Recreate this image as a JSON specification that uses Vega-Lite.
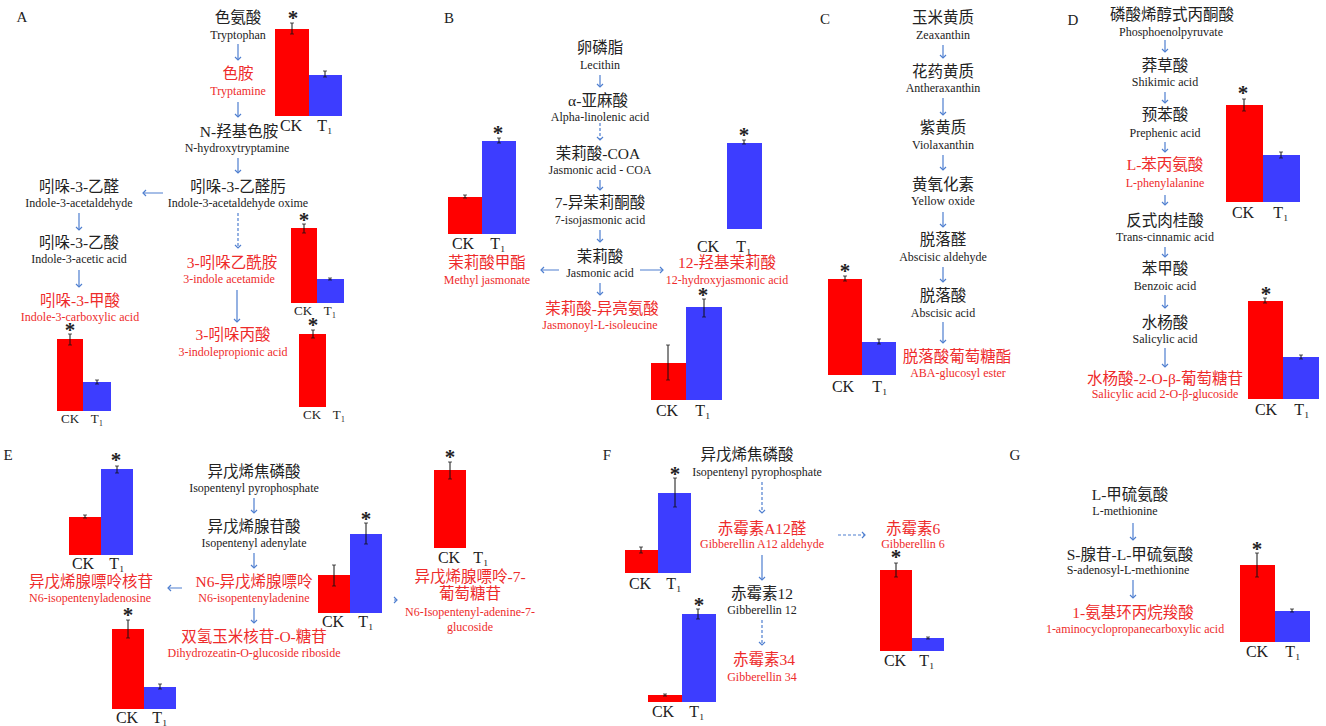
{
"$schema": "https://vega.github.io/schema/vega-lite/v6.json",
"width": 1326, "height": 726,
"autosize": {"type": "fit", "contains": "padding"},
"padding": 0,
"background": "white",
"config": {"view": {"stroke": null}},
"datasets": {
"arrows": [
{"x1":238,"y1":44,"x2":238,"y2":60,"d":0,"dir":"down"},
{"x1":238,"y1":102,"x2":238,"y2":117,"d":0,"dir":"down"},
{"x1":238,"y1":158,"x2":238,"y2":173,"d":0,"dir":"down"},
{"x1":163,"y1":193,"x2":143,"y2":193,"d":0,"dir":"left"},
{"x1":79,"y1":213,"x2":79,"y2":230,"d":0,"dir":"down"},
{"x1":79,"y1":270,"x2":79,"y2":287,"d":0,"dir":"down"},
{"x1":238,"y1":213,"x2":238,"y2":248,"d":1,"dir":"down"},
{"x1":237,"y1":290,"x2":237,"y2":322,"d":0,"dir":"down"},
{"x1":600,"y1":75,"x2":600,"y2":87,"d":0,"dir":"down"},
{"x1":600,"y1":123,"x2":600,"y2":140,"d":1,"dir":"down"},
{"x1":600,"y1":180,"x2":600,"y2":190,"d":0,"dir":"down"},
{"x1":600,"y1":230,"x2":600,"y2":242,"d":0,"dir":"down"},
{"x1":559,"y1":270,"x2":541,"y2":270,"d":0,"dir":"left"},
{"x1":640,"y1":270,"x2":663,"y2":270,"d":0,"dir":"right"},
{"x1":600,"y1":283,"x2":600,"y2":295,"d":0,"dir":"down"},
{"x1":943,"y1":45,"x2":943,"y2":58,"d":0,"dir":"down"},
{"x1":943,"y1":98,"x2":943,"y2":115,"d":0,"dir":"down"},
{"x1":943,"y1":155,"x2":943,"y2":170,"d":0,"dir":"down"},
{"x1":943,"y1":212,"x2":943,"y2":227,"d":0,"dir":"down"},
{"x1":943,"y1":267,"x2":943,"y2":282,"d":0,"dir":"down"},
{"x1":943,"y1":322,"x2":943,"y2":343,"d":0,"dir":"down"},
{"x1":1165,"y1":40,"x2":1165,"y2":52,"d":0,"dir":"down"},
{"x1":1165,"y1":92,"x2":1165,"y2":103,"d":0,"dir":"down"},
{"x1":1165,"y1":142,"x2":1165,"y2":152,"d":0,"dir":"down"},
{"x1":1165,"y1":195,"x2":1165,"y2":205,"d":0,"dir":"down"},
{"x1":1165,"y1":247,"x2":1165,"y2":257,"d":0,"dir":"down"},
{"x1":1165,"y1":295,"x2":1165,"y2":308,"d":0,"dir":"down"},
{"x1":1165,"y1":348,"x2":1165,"y2":367,"d":0,"dir":"down"},
{"x1":254,"y1":498,"x2":254,"y2":513,"d":0,"dir":"down"},
{"x1":254,"y1":553,"x2":254,"y2":568,"d":0,"dir":"down"},
{"x1":254,"y1":608,"x2":254,"y2":623,"d":0,"dir":"down"},
{"x1":182,"y1":588,"x2":168,"y2":588,"d":0,"dir":"left"},
{"x1":394,"y1":600,"x2":397,"y2":600,"d":0,"dir":"right"},
{"x1":762,"y1":482,"x2":762,"y2":513,"d":1,"dir":"down"},
{"x1":838,"y1":535,"x2":865,"y2":535,"d":1,"dir":"right"},
{"x1":762,"y1":555,"x2":762,"y2":580,"d":0,"dir":"down"},
{"x1":762,"y1":620,"x2":762,"y2":645,"d":1,"dir":"down"},
{"x1":1133,"y1":523,"x2":1133,"y2":540,"d":0,"dir":"down"},
{"x1":1133,"y1":580,"x2":1133,"y2":598,"d":0,"dir":"down"}
],
"bars": [
{"c":"A1","g":"CK","x0":275,"x1":309,"top":29,"base":116,"ex":292,"elo":23,"ehi":34},
{"c":"A1","g":"T1","x0":309,"x1":342,"top":75,"base":116,"ex":325,"elo":71,"ehi":77},
{"c":"A2","g":"CK","x0":291,"x1":317,"top":228,"base":303,"ex":304,"elo":224,"ehi":233},
{"c":"A2","g":"T1","x0":317,"x1":344,"top":279,"base":303,"ex":330,"elo":278,"ehi":280},
{"c":"A3","g":"CK","x0":299,"x1":326,"top":334,"base":407,"ex":313,"elo":330,"ehi":338},
{"c":"A4","g":"CK","x0":57,"x1":83,"top":339,"base":411,"ex":70,"elo":334,"ehi":345},
{"c":"A4","g":"T1","x0":83,"x1":111,"top":382,"base":411,"ex":97,"elo":380,"ehi":384},
{"c":"B1","g":"CK","x0":448,"x1":482,"top":197,"base":234,"ex":465,"elo":195,"ehi":198},
{"c":"B1","g":"T1","x0":482,"x1":516,"top":141,"base":234,"ex":499,"elo":138,"ehi":143},
{"c":"B2","g":"T1","x0":727,"x1":762,"top":143,"base":229,"ex":744,"elo":140,"ehi":144},
{"c":"B3","g":"CK","x0":651,"x1":686,"top":363,"base":400,"ex":668,"elo":345,"ehi":380},
{"c":"B3","g":"T1","x0":686,"x1":722,"top":307,"base":400,"ex":704,"elo":299,"ehi":317},
{"c":"C","g":"CK","x0":828,"x1":862,"top":279,"base":375,"ex":845,"elo":276,"ehi":281},
{"c":"C","g":"T1","x0":862,"x1":896,"top":342,"base":375,"ex":879,"elo":339,"ehi":344},
{"c":"D1","g":"CK","x0":1226,"x1":1263,"top":105,"base":202,"ex":1244,"elo":99,"ehi":111},
{"c":"D1","g":"T1","x0":1263,"x1":1300,"top":155,"base":202,"ex":1281,"elo":152,"ehi":158},
{"c":"D2","g":"CK","x0":1248,"x1":1283,"top":301,"base":399,"ex":1265,"elo":298,"ehi":303},
{"c":"D2","g":"T1","x0":1283,"x1":1319,"top":357,"base":399,"ex":1301,"elo":355,"ehi":359},
{"c":"E1","g":"CK","x0":69,"x1":101,"top":517,"base":555,"ex":85,"elo":515,"ehi":518},
{"c":"E1","g":"T1","x0":101,"x1":133,"top":469,"base":555,"ex":117,"elo":466,"ehi":473},
{"c":"E2","g":"CK","x0":112,"x1":144,"top":629,"base":709,"ex":128,"elo":620,"ehi":638},
{"c":"E2","g":"T1","x0":144,"x1":176,"top":687,"base":709,"ex":160,"elo":684,"ehi":689},
{"c":"E3","g":"CK","x0":318,"x1":350,"top":575,"base":613,"ex":334,"elo":565,"ehi":586},
{"c":"E3","g":"T1","x0":350,"x1":382,"top":534,"base":613,"ex":366,"elo":523,"ehi":544},
{"c":"E4","g":"CK","x0":434,"x1":466,"top":470,"base":548,"ex":450,"elo":462,"ehi":479},
{"c":"F1","g":"CK","x0":625,"x1":658,"top":550,"base":573,"ex":641,"elo":547,"ehi":553},
{"c":"F1","g":"T1","x0":658,"x1":691,"top":493,"base":573,"ex":675,"elo":478,"ehi":507},
{"c":"F2","g":"CK","x0":648,"x1":682,"top":695,"base":702,"ex":665,"elo":694,"ehi":696},
{"c":"F2","g":"T1","x0":682,"x1":716,"top":614,"base":702,"ex":698,"elo":609,"ehi":619},
{"c":"F3","g":"CK","x0":880,"x1":912,"top":570,"base":651,"ex":896,"elo":563,"ehi":577},
{"c":"F3","g":"T1","x0":912,"x1":944,"top":638,"base":651,"ex":928,"elo":637,"ehi":639},
{"c":"G","g":"CK","x0":1240,"x1":1275,"top":565,"base":642,"ex":1257,"elo":553,"ehi":577},
{"c":"G","g":"T1","x0":1275,"x1":1310,"top":611,"base":642,"ex":1292,"elo":609,"ehi":612}
],
"labels": [
{"t":"A","x":22,"y":17,"r":"panel","h":0},
{"t":"色氨酸","x":238,"y":18,"r":"cn","h":0},
{"t":"Tryptophan","x":238,"y":35,"r":"en","h":0},
{"t":"色胺","x":238,"y":74,"r":"cn","h":1},
{"t":"Tryptamine","x":238,"y":91,"r":"en","h":1},
{"t":"N-羟基色胺","x":239,"y":132,"r":"cn","h":0},
{"t":"N-hydroxytryptamine","x":237,"y":148,"r":"en","h":0},
{"t":"吲哚-3-乙醛肟","x":238,"y":187,"r":"cn","h":0},
{"t":"Indole-3-acetaldehyde oxime","x":238,"y":203,"r":"en","h":0},
{"t":"吲哚-3-乙醛","x":79,"y":187,"r":"cn","h":0},
{"t":"Indole-3-acetaldehyde","x":79,"y":203,"r":"en","h":0},
{"t":"吲哚-3-乙酸","x":79,"y":243,"r":"cn","h":0},
{"t":"Indole-3-acetic acid","x":79,"y":259,"r":"en","h":0},
{"t":"吲哚-3-甲酸","x":80,"y":301,"r":"cn","h":1},
{"t":"Indole-3-carboxylic acid","x":80,"y":317,"r":"en","h":1},
{"t":"3-吲哚乙酰胺","x":232,"y":263,"r":"cn","h":1},
{"t":"3-indole acetamide","x":229,"y":279,"r":"en","h":1},
{"t":"3-吲哚丙酸","x":233,"y":335,"r":"cn","h":1},
{"t":"3-indolepropionic acid","x":233,"y":352,"r":"en","h":1},
{"t":"B","x":449,"y":18,"r":"panel","h":0},
{"t":"卵磷脂","x":600,"y":48,"r":"cn","h":0},
{"t":"Lecithin","x":600,"y":65,"r":"en","h":0},
{"t":"α-亚麻酸","x":598,"y":101,"r":"cn","h":0},
{"t":"Alpha-linolenic acid","x":600,"y":117,"r":"en","h":0},
{"t":"茉莉酸-COA","x":598,"y":154,"r":"cn","h":0},
{"t":"Jasmonic acid - COA","x":600,"y":170,"r":"en","h":0},
{"t":"7-异茉莉酮酸","x":600,"y":203,"r":"cn","h":0},
{"t":"7-isojasmonic acid","x":600,"y":220,"r":"en","h":0},
{"t":"茉莉酸","x":600,"y":257,"r":"cn","h":0},
{"t":"Jasmonic acid","x":600,"y":273,"r":"en","h":0},
{"t":"茉莉酸-异亮氨酸","x":602,"y":309,"r":"cn","h":1},
{"t":"Jasmonoyl-L-isoleucine","x":600,"y":325,"r":"en","h":1},
{"t":"茉莉酸甲酯","x":487,"y":263,"r":"cn","h":1},
{"t":"Methyl jasmonate","x":487,"y":280,"r":"en","h":1},
{"t":"12-羟基茉莉酸","x":727,"y":263,"r":"cn","h":1},
{"t":"12-hydroxyjasmonic acid","x":727,"y":280,"r":"en","h":1},
{"t":"C","x":825,"y":19,"r":"panel","h":0},
{"t":"玉米黄质","x":943,"y":18,"r":"cn","h":0},
{"t":"Zeaxanthin","x":943,"y":35,"r":"en","h":0},
{"t":"花药黄质","x":943,"y":72,"r":"cn","h":0},
{"t":"Antheraxanthin","x":943,"y":88,"r":"en","h":0},
{"t":"紫黄质","x":943,"y":128,"r":"cn","h":0},
{"t":"Violaxanthin","x":943,"y":145,"r":"en","h":0},
{"t":"黄氧化素","x":943,"y":185,"r":"cn","h":0},
{"t":"Yellow oxide","x":943,"y":201,"r":"en","h":0},
{"t":"脱落醛","x":943,"y":240,"r":"cn","h":0},
{"t":"Abscisic aldehyde","x":943,"y":257,"r":"en","h":0},
{"t":"脱落酸","x":943,"y":296,"r":"cn","h":0},
{"t":"Abscisic acid","x":943,"y":313,"r":"en","h":0},
{"t":"脱落酸葡萄糖酯","x":957,"y":357,"r":"cn","h":1},
{"t":"ABA-glucosyl ester","x":958,"y":373,"r":"en","h":1},
{"t":"D","x":1073,"y":20,"r":"panel","h":0},
{"t":"磷酸烯醇式丙酮酸","x":1172,"y":15,"r":"cn","h":0},
{"t":"Phosphoenolpyruvate","x":1171,"y":32,"r":"en","h":0},
{"t":"莽草酸","x":1165,"y":66,"r":"cn","h":0},
{"t":"Shikimic acid","x":1165,"y":82,"r":"en","h":0},
{"t":"预苯酸","x":1165,"y":115,"r":"cn","h":0},
{"t":"Prephenic acid","x":1165,"y":133,"r":"en","h":0},
{"t":"L-苯丙氨酸","x":1165,"y":165,"r":"cn","h":1},
{"t":"L-phenylalanine","x":1165,"y":183,"r":"en","h":1},
{"t":"反式肉桂酸","x":1165,"y":221,"r":"cn","h":0},
{"t":"Trans-cinnamic acid","x":1165,"y":237,"r":"en","h":0},
{"t":"苯甲酸","x":1165,"y":269,"r":"cn","h":0},
{"t":"Benzoic acid","x":1165,"y":286,"r":"en","h":0},
{"t":"水杨酸","x":1165,"y":323,"r":"cn","h":0},
{"t":"Salicylic acid","x":1165,"y":339,"r":"en","h":0},
{"t":"水杨酸-2-O-β-葡萄糖苷","x":1165,"y":379,"r":"cn","h":1},
{"t":"Salicylic acid 2-O-β-glucoside","x":1165,"y":394,"r":"en","h":1},
{"t":"E","x":8,"y":455,"r":"panel","h":0},
{"t":"异戊烯焦磷酸","x":254,"y":472,"r":"cn","h":0},
{"t":"Isopentenyl pyrophosphate","x":254,"y":488,"r":"en","h":0},
{"t":"异戊烯腺苷酸","x":254,"y":527,"r":"cn","h":0},
{"t":"Isopentenyl adenylate","x":254,"y":543,"r":"en","h":0},
{"t":"N6-异戊烯腺嘌呤","x":254,"y":582,"r":"cn","h":1},
{"t":"N6-isopentenyladenine","x":254,"y":598,"r":"en","h":1},
{"t":"双氢玉米核苷-O-糖苷","x":254,"y":637,"r":"cn","h":1},
{"t":"Dihydrozeatin-O-glucoside riboside","x":254,"y":653,"r":"en","h":1},
{"t":"异戊烯腺嘌呤核苷","x":91,"y":582,"r":"cn","h":1},
{"t":"N6-isopentenyladenosine","x":90,"y":598,"r":"en","h":1},
{"t":"异戊烯腺嘌呤-7-","x":470,"y":577,"r":"cn","h":1},
{"t":"葡萄糖苷","x":470,"y":594,"r":"cn","h":1},
{"t":"N6-Isopentenyl-adenine-7-","x":470,"y":612,"r":"en","h":1},
{"t":"glucoside","x":470,"y":627,"r":"en","h":1},
{"t":"F","x":607,"y":455,"r":"panel","h":0},
{"t":"异戊烯焦磷酸","x":747,"y":455,"r":"cn","h":0},
{"t":"Isopentenyl pyrophosphate","x":757,"y":472,"r":"en","h":0},
{"t":"赤霉素A12醛","x":762,"y":529,"r":"cn","h":1},
{"t":"Gibberellin A12 aldehyde","x":762,"y":544,"r":"en","h":1},
{"t":"赤霉素12","x":762,"y":594,"r":"cn","h":0},
{"t":"Gibberellin 12","x":762,"y":610,"r":"en","h":0},
{"t":"赤霉素34","x":764,"y":660,"r":"cn","h":1},
{"t":"Gibberellin 34","x":762,"y":677,"r":"en","h":1},
{"t":"赤霉素6","x":913,"y":529,"r":"cn","h":1},
{"t":"Gibberellin 6","x":913,"y":544,"r":"en","h":1},
{"t":"G","x":1015,"y":455,"r":"panel","h":0},
{"t":"L-甲硫氨酸","x":1130,"y":495,"r":"cn","h":0},
{"t":"L-methionine","x":1125,"y":511,"r":"en","h":0},
{"t":"S-腺苷-L-甲硫氨酸","x":1130,"y":555,"r":"cn","h":0},
{"t":"S-adenosyl-L-methionine","x":1128,"y":570,"r":"en","h":0},
{"t":"1-氨基环丙烷羧酸","x":1133,"y":613,"r":"cn","h":1},
{"t":"1-aminocyclopropanecarboxylic acid","x":1135,"y":629,"r":"en","h":1},
{"t":"CK","x":291,"y":126,"r":"cat","h":0},{"t":"T₁","x":325,"y":126,"r":"cat","h":0},
{"t":"CK","x":303,"y":311,"r":"cats","h":0},{"t":"T₁","x":330,"y":311,"r":"cats","h":0},
{"t":"CK","x":312,"y":415,"r":"cats","h":0},{"t":"T₁","x":339,"y":415,"r":"cats","h":0},
{"t":"CK","x":70,"y":419,"r":"cats","h":0},{"t":"T₁","x":97,"y":419,"r":"cats","h":0},
{"t":"CK","x":463,"y":244,"r":"cat","h":0},{"t":"T₁","x":498,"y":244,"r":"cat","h":0},
{"t":"CK","x":708,"y":247,"r":"cat","h":0},{"t":"T₁","x":744,"y":247,"r":"cat","h":0},
{"t":"CK","x":667,"y":411,"r":"cat","h":0},{"t":"T₁","x":703,"y":411,"r":"cat","h":0},
{"t":"CK","x":843,"y":387,"r":"cat","h":0},{"t":"T₁","x":880,"y":387,"r":"cat","h":0},
{"t":"CK","x":1243,"y":213,"r":"cat","h":0},{"t":"T₁","x":1281,"y":213,"r":"cat","h":0},
{"t":"CK","x":1266,"y":410,"r":"cat","h":0},{"t":"T₁","x":1302,"y":410,"r":"cat","h":0},
{"t":"CK","x":83,"y":564,"r":"cat","h":0},{"t":"T₁","x":117,"y":564,"r":"cat","h":0},
{"t":"CK","x":127,"y":718,"r":"cat","h":0},{"t":"T₁","x":160,"y":718,"r":"cat","h":0},
{"t":"CK","x":333,"y":622,"r":"cat","h":0},{"t":"T₁","x":366,"y":622,"r":"cat","h":0},
{"t":"CK","x":449,"y":558,"r":"cat","h":0},{"t":"T₁","x":481,"y":558,"r":"cat","h":0},
{"t":"CK","x":640,"y":584,"r":"cat","h":0},{"t":"T₁","x":674,"y":584,"r":"cat","h":0},
{"t":"CK","x":663,"y":712,"r":"cat","h":0},{"t":"T₁","x":697,"y":712,"r":"cat","h":0},
{"t":"CK","x":895,"y":661,"r":"cat","h":0},{"t":"T₁","x":927,"y":661,"r":"cat","h":0},
{"t":"CK","x":1257,"y":652,"r":"cat","h":0},{"t":"T₁","x":1293,"y":652,"r":"cat","h":0},
{"t":"*","x":293,"y":15,"r":"star","h":0},
{"t":"*","x":304,"y":217,"r":"star","h":0},
{"t":"*","x":313,"y":322,"r":"star","h":0},
{"t":"*","x":70,"y":327,"r":"star","h":0},
{"t":"*","x":498,"y":130,"r":"star","h":0},
{"t":"*","x":744,"y":132,"r":"star","h":0},
{"t":"*","x":703,"y":292,"r":"star","h":0},
{"t":"*","x":845,"y":268,"r":"star","h":0},
{"t":"*","x":1243,"y":90,"r":"star","h":0},
{"t":"*","x":1266,"y":291,"r":"star","h":0},
{"t":"*","x":116,"y":457,"r":"star","h":0},
{"t":"*","x":128,"y":612,"r":"star","h":0},
{"t":"*","x":366,"y":516,"r":"star","h":0},
{"t":"*","x":450,"y":454,"r":"star","h":0},
{"t":"*","x":675,"y":471,"r":"star","h":0},
{"t":"*","x":699,"y":602,"r":"star","h":0},
{"t":"*","x":896,"y":554,"r":"star","h":0},
{"t":"*","x":1257,"y":546,"r":"star","h":0}
]
},
"layer": [
{"data": {"name": "bars"},
 "mark": {"type": "rect"},
 "encoding": {
  "x": {"field": "x0", "type": "quantitative", "scale": {"domain": [0, 1326], "nice": false, "zero": false}, "axis": null},
  "x2": {"field": "x1"},
  "y": {"field": "top", "type": "quantitative", "scale": {"domain": [0, 726], "nice": false, "zero": false, "reverse": true}, "axis": null},
  "y2": {"field": "base"},
  "fill": {"field": "g", "type": "nominal", "scale": {"domain": ["CK", "T1"], "range": ["#ff0000", "#3d3dff"]}, "legend": null}
 }},
{"data": {"name": "bars"},
 "mark": {"type": "rule", "color": "#111111", "strokeWidth": 1},
 "encoding": {
  "x": {"field": "ex", "type": "quantitative", "scale": {"domain": [0, 1326], "nice": false, "zero": false}, "axis": null},
  "y": {"field": "elo", "type": "quantitative", "scale": {"domain": [0, 726], "nice": false, "zero": false, "reverse": true}, "axis": null},
  "y2": {"field": "ehi"}
 }},
{"data": {"name": "bars"},
 "mark": {"type": "tick", "orient": "horizontal", "color": "#111111", "size": 4, "thickness": 1},
 "encoding": {
  "x": {"field": "ex", "type": "quantitative", "scale": {"domain": [0, 1326], "nice": false, "zero": false}, "axis": null},
  "y": {"field": "elo", "type": "quantitative", "scale": {"domain": [0, 726], "nice": false, "zero": false, "reverse": true}, "axis": null}
 }},
{"data": {"name": "bars"},
 "mark": {"type": "tick", "orient": "horizontal", "color": "#111111", "size": 4, "thickness": 1},
 "encoding": {
  "x": {"field": "ex", "type": "quantitative", "scale": {"domain": [0, 1326], "nice": false, "zero": false}, "axis": null},
  "y": {"field": "ehi", "type": "quantitative", "scale": {"domain": [0, 726], "nice": false, "zero": false, "reverse": true}, "axis": null}
 }},
{"data": {"name": "arrows"},
 "mark": {"type": "rule", "color": "#4f7fd0", "strokeWidth": 1.2},
 "encoding": {
  "x": {"field": "x1", "type": "quantitative", "scale": {"domain": [0, 1326], "nice": false, "zero": false}, "axis": null},
  "y": {"field": "y1", "type": "quantitative", "scale": {"domain": [0, 726], "nice": false, "zero": false, "reverse": true}, "axis": null},
  "x2": {"field": "x2"},
  "y2": {"field": "y2"},
  "strokeDash": {"field": "d", "type": "nominal", "scale": {"domain": [0, 1], "range": [[1, 0], [3, 2]]}, "legend": null}
 }},
{"data": {"name": "arrows"},
 "transform": [{"filter": "datum.dir == 'down'"}],
 "mark": {"type": "point", "shape": "M-1,-1L0,0L1,-1", "filled": false, "stroke": "#4f7fd0", "strokeWidth": 1.2, "size": 36, "angle": 0, "opacity": 1},
 "encoding": {
  "x": {"field": "x2", "type": "quantitative", "scale": {"domain": [0, 1326], "nice": false, "zero": false}, "axis": null},
  "y": {"field": "y2", "type": "quantitative", "scale": {"domain": [0, 726], "nice": false, "zero": false, "reverse": true}, "axis": null}
 }},
{"data": {"name": "arrows"},
 "transform": [{"filter": "datum.dir == 'left'"}],
 "mark": {"type": "point", "shape": "M-1,-1L0,0L1,-1", "filled": false, "stroke": "#4f7fd0", "strokeWidth": 1.2, "size": 36, "angle": 90, "opacity": 1},
 "encoding": {
  "x": {"field": "x2", "type": "quantitative", "scale": {"domain": [0, 1326], "nice": false, "zero": false}, "axis": null},
  "y": {"field": "y2", "type": "quantitative", "scale": {"domain": [0, 726], "nice": false, "zero": false, "reverse": true}, "axis": null}
 }},
{"data": {"name": "arrows"},
 "transform": [{"filter": "datum.dir == 'right'"}],
 "mark": {"type": "point", "shape": "M-1,-1L0,0L1,-1", "filled": false, "stroke": "#4f7fd0", "strokeWidth": 1.2, "size": 36, "angle": 270, "opacity": 1},
 "encoding": {
  "x": {"field": "x2", "type": "quantitative", "scale": {"domain": [0, 1326], "nice": false, "zero": false}, "axis": null},
  "y": {"field": "y2", "type": "quantitative", "scale": {"domain": [0, 726], "nice": false, "zero": false, "reverse": true}, "axis": null}
 }},
{"data": {"name": "labels"},
 "transform": [{"filter": "datum.r == 'cn'"}],
 "mark": {"type": "text", "font": "Liberation Serif, Noto Sans CJK SC", "align": "center", "baseline": "middle", "fontSize": 15.5},
 "encoding": {
  "x": {"field": "x", "type": "quantitative", "scale": {"domain": [0, 1326], "nice": false, "zero": false}, "axis": null},
  "y": {"field": "y", "type": "quantitative", "scale": {"domain": [0, 726], "nice": false, "zero": false, "reverse": true}, "axis": null},
  "text": {"field": "t"},
  "color": {"field": "h", "type": "nominal", "scale": {"domain": [0, 1], "range": ["#222222", "#ee2b2b"]}, "legend": null}
 }},
{"data": {"name": "labels"},
 "transform": [{"filter": "datum.r == 'en'"}],
 "mark": {"type": "text", "font": "Liberation Serif", "align": "center", "baseline": "middle", "fontSize": 12},
 "encoding": {
  "x": {"field": "x", "type": "quantitative", "scale": {"domain": [0, 1326], "nice": false, "zero": false}, "axis": null},
  "y": {"field": "y", "type": "quantitative", "scale": {"domain": [0, 726], "nice": false, "zero": false, "reverse": true}, "axis": null},
  "text": {"field": "t"},
  "color": {"field": "h", "type": "nominal", "scale": {"domain": [0, 1], "range": ["#222222", "#ee2b2b"]}, "legend": null}
 }},
{"data": {"name": "labels"},
 "transform": [{"filter": "datum.r == 'panel'"}],
 "mark": {"type": "text", "font": "Liberation Serif", "align": "center", "baseline": "middle", "fontSize": 15, "color": "#222222"},
 "encoding": {
  "x": {"field": "x", "type": "quantitative", "scale": {"domain": [0, 1326], "nice": false, "zero": false}, "axis": null},
  "y": {"field": "y", "type": "quantitative", "scale": {"domain": [0, 726], "nice": false, "zero": false, "reverse": true}, "axis": null},
  "text": {"field": "t"}
 }},
{"data": {"name": "labels"},
 "transform": [{"filter": "datum.r == 'cat'"}],
 "mark": {"type": "text", "font": "Liberation Serif", "align": "center", "baseline": "middle", "fontSize": 16, "color": "#222222"},
 "encoding": {
  "x": {"field": "x", "type": "quantitative", "scale": {"domain": [0, 1326], "nice": false, "zero": false}, "axis": null},
  "y": {"field": "y", "type": "quantitative", "scale": {"domain": [0, 726], "nice": false, "zero": false, "reverse": true}, "axis": null},
  "text": {"field": "t"}
 }},
{"data": {"name": "labels"},
 "transform": [{"filter": "datum.r == 'cats'"}],
 "mark": {"type": "text", "font": "Liberation Serif", "align": "center", "baseline": "middle", "fontSize": 13, "color": "#222222"},
 "encoding": {
  "x": {"field": "x", "type": "quantitative", "scale": {"domain": [0, 1326], "nice": false, "zero": false}, "axis": null},
  "y": {"field": "y", "type": "quantitative", "scale": {"domain": [0, 726], "nice": false, "zero": false, "reverse": true}, "axis": null},
  "text": {"field": "t"}
 }},
{"data": {"name": "labels"},
 "transform": [{"filter": "datum.r == 'star'"}],
 "mark": {"type": "text", "font": "Liberation Serif", "fontSize": 21, "fontWeight": "bold", "color": "#222222", "align": "center", "baseline": "middle", "dy": 4},
 "encoding": {
  "x": {"field": "x", "type": "quantitative", "scale": {"domain": [0, 1326], "nice": false, "zero": false}, "axis": null},
  "y": {"field": "y", "type": "quantitative", "scale": {"domain": [0, 726], "nice": false, "zero": false, "reverse": true}, "axis": null},
  "text": {"field": "t"}
 }}
]
}
